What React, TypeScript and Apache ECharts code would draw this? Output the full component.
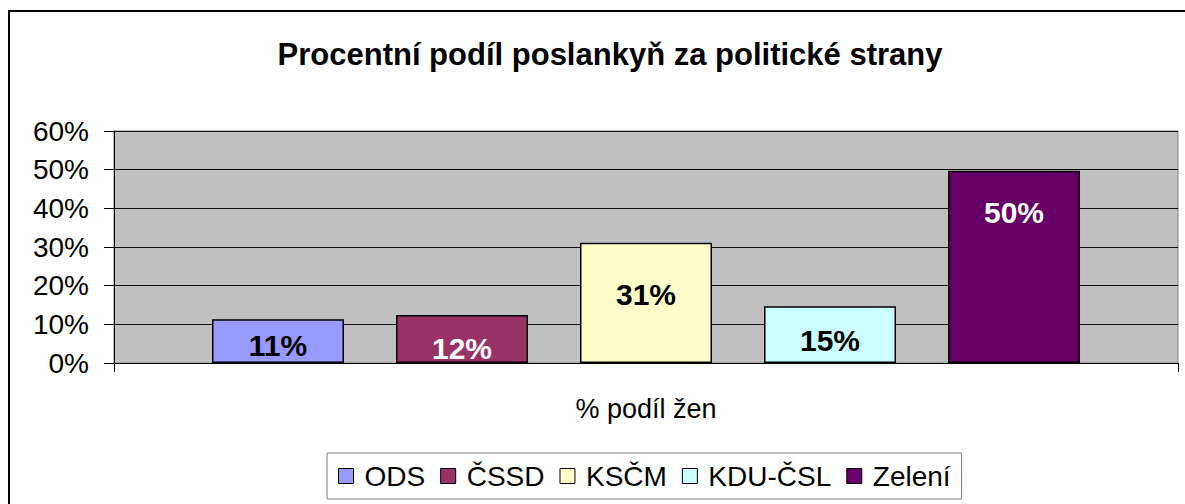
import React, { useEffect, useRef } from "react";
import * as echarts from "echarts";

const TITLE = "Procentní podíl poslankyň za politické strany";
const CATEGORIES = ["% podíl žen"];
const PARTIES = ["ODS", "ČSSD", "KSČM", "KDU-ČSL", "Zelení"];
const VALUES = [11.3, 12.4, 31.1, 14.7, 49.7];
const COLORS = ["#9999FF", "#993366", "#FFFFCC", "#CCFFFF", "#660066"];
const LABEL_COLORS = ["#000000", "#FFFFFF", "#000000", "#000000", "#FFFFFF"];
const LABEL_DIST = [11, 18, 37, 19, 27];
const Y_TICKS = [0, 10, 20, 30, 40, 50, 60];

const FONT = "'Liberation Sans', Arial, sans-serif";

export default function App() {
  const ref = useRef<HTMLDivElement>(null);
  useEffect(() => {
    if (!ref.current) return;
    const chart = echarts.init(ref.current, null, { renderer: "svg" });
    chart.setOption({
      animation: false,
      backgroundColor: "#FFFFFF",
      title: {
        text: TITLE,
        left: 605,
        textAlign: "center",
        top: 34,
        textStyle: { fontFamily: FONT, fontSize: 31, fontWeight: "bold", color: "#000" },
      },
      graphic: [
        {
          type: "line",
          shape: { x1: 9, y1: 11, x2: 1185, y2: 11 },
          style: { stroke: "#000", lineWidth: 2 },
          z: 100,
        },
        {
          type: "line",
          shape: { x1: 9, y1: 10, x2: 9, y2: 504 },
          style: { stroke: "#000", lineWidth: 2 },
          z: 100,
        },
      ],
      legend: {
        data: PARTIES,
        left: 327,
        top: 453,
        padding: [9, 11, 9, 11],
        itemGap: 15,
        itemWidth: 15,
        itemHeight: 15,
        icon: "rect",
        borderColor: "#808080",
        borderWidth: 1,
        borderRadius: 0,
        textStyle: { fontFamily: FONT, fontSize: 28, color: "#000", padding: [0, 0, 0, 6] },
        itemStyle: { borderColor: "#000", borderWidth: 1 },
      },
      grid: {
        left: 114,
        top: 131,
        right: 7,
        bottom: 141,
        show: true,
        backgroundColor: "#C0C0C0",
        borderColor: "#808080",
        borderWidth: 1,
      },
      xAxis: {
        type: "category",
        data: CATEGORIES,
        boundaryGap: true,
        axisLine: { lineStyle: { color: "#000", width: 1 } },
        axisTick: { show: true, length: 9, lineStyle: { color: "#000" } },
        axisLabel: { fontFamily: FONT, fontSize: 27, color: "#000", margin: 32 },
      },
      yAxis: {
        type: "value",
        min: Y_TICKS[0],
        max: Y_TICKS[Y_TICKS.length - 1],
        interval: 10,
        axisLine: { show: true, lineStyle: { color: "#000", width: 1 } },
        axisTick: { show: true, length: 10, lineStyle: { color: "#000" } },
        axisLabel: {
          fontFamily: FONT,
          fontSize: 28,
          color: "#000",
          margin: 25,
          formatter: (v: number) => v + "%",
        },
        splitLine: { show: true, lineStyle: { color: "#111", width: 1 } },
      },
      series: PARTIES.map((name, i) => ({
        name,
        type: "bar",
        data: [VALUES[i]],
        barWidth: 132,
        barGap: "39.4%",
        itemStyle: { color: COLORS[i], borderColor: "#000", borderWidth: 1.5 },
        label: {
          show: true,
          position: "insideTop",
          distance: LABEL_DIST[i],
          fontFamily: FONT,
          fontSize: 30,
          fontWeight: "bold",
          color: LABEL_COLORS[i],
          formatter: (p: any) => Math.round(p.value) + "%",
        },
      })),
    });
    return () => chart.dispose();
  }, []);
  return (
    <div
      ref={ref}
      style={{ position: "absolute", left: 0, top: 0, width: 1185, height: 504 }}
    />
  );
}
